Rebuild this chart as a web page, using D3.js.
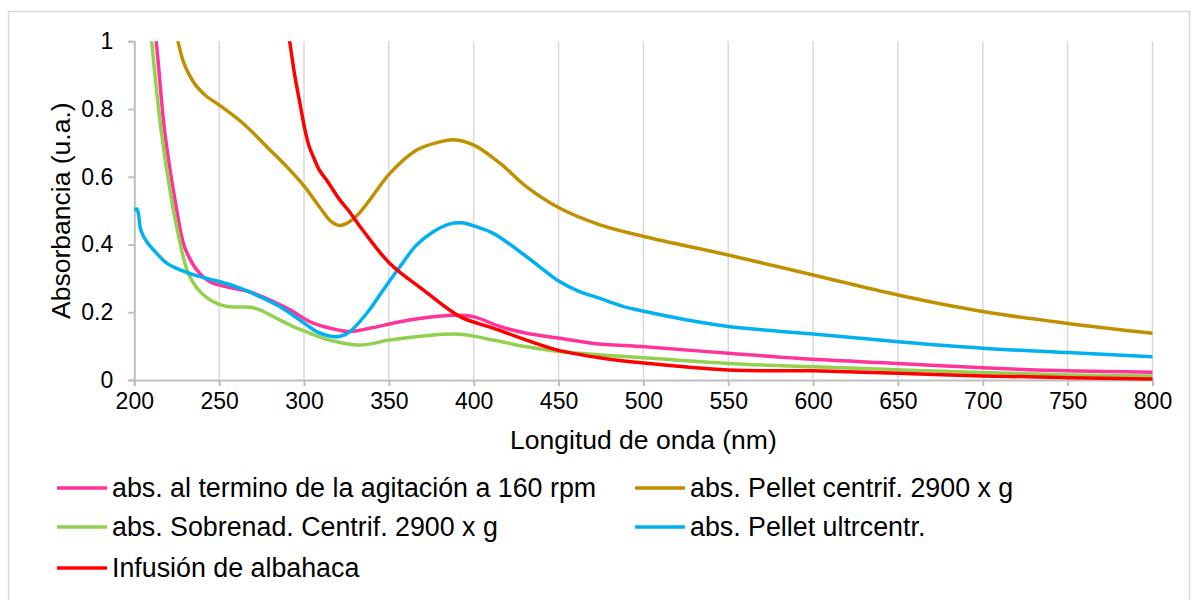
<!DOCTYPE html>
<html><head><meta charset="utf-8">
<script src="https://cdn.jsdelivr.net/npm/d3@7"></script>
<style>
html,body{margin:0;padding:0;background:#fff;}
text{font-family:"Liberation Sans",Arial,sans-serif;fill:#000;}
</style></head>
<body><svg id="chart" width="1192" height="600"></svg>
<script>
// ---- data (wavelength nm, absorbance u.a.) ----
const seriesNames = ["abs. al termino de la agitación a 160 rpm","abs. Pellet centrif. 2900 x g","abs. Sobrenad. Centrif. 2900 x g","abs. Pellet ultrcentr.","Infusión de albahaca"];
const seriesColors = ["#FF3399","#BF9000","#92D050","#00B0F0","#FF0000"];

const pinkNm  = [205,212.9,218,224,228.9,232,236.8,244.6,256.4,268.2,280,291.8,303.5,311.4,320,327,338.9,356.6,370.3,388,399.8,415.5,431.2,450.8,470.5,500.9,550,600,650,700,750,800];
const pinkAbs = [1.35,1.0,0.73,0.531,0.404,0.365,0.325,0.29,0.273,0.26,0.236,0.207,0.172,0.158,0.148,0.143,0.153,0.172,0.183,0.191,0.187,0.158,0.138,0.123,0.108,0.098,0.079,0.061,0.049,0.036,0.027,0.023];

const goldNm  = [220,222,225.7,228.9,232.8,236.8,242.7,250,264,280,289.8,300,310,316,321,327,333,340,350.6,366.4,380,388,399.8,415.5,431,450.8,474.4,500.9,550,600,650,700,750,800];
const goldAbs = [1.12,1.07,1.0,0.94,0.897,0.866,0.837,0.812,0.758,0.679,0.63,0.573,0.505,0.468,0.456,0.468,0.495,0.54,0.61,0.679,0.703,0.709,0.694,0.64,0.571,0.507,0.458,0.423,0.369,0.31,0.251,0.202,0.167,0.138];

const greenNm  = [204,210.2,216,222,227,231.8,238.7,248.6,256.4,268.2,274,283.9,295.7,303.5,311.4,320,333,350.6,370.3,392,411.5,431,449,474.4,500,550,600,650,700,750,800];
const greenAbs = [1.35,1.0,0.73,0.531,0.404,0.315,0.261,0.226,0.216,0.215,0.207,0.182,0.153,0.138,0.123,0.112,0.103,0.118,0.13,0.135,0.118,0.098,0.085,0.074,0.066,0.049,0.039,0.03,0.022,0.015,0.012];

const blueNm  = [200,201.5,202.4,203.8,207.3,213.2,219.1,227,238.7,250.5,262.3,274,285.9,297.6,307.5,317.3,322,327.1,337,346.7,356.6,366.4,376.2,386,393,400,411.5,431.2,450.8,462,474.4,487,500.9,525,550,575,600,650,700,750,800];
const blueAbs = [0.502,0.505,0.492,0.443,0.408,0.374,0.345,0.325,0.305,0.29,0.271,0.246,0.216,0.177,0.143,0.128,0.13,0.143,0.197,0.266,0.335,0.399,0.438,0.461,0.464,0.455,0.433,0.364,0.29,0.262,0.241,0.219,0.202,0.178,0.158,0.146,0.136,0.113,0.094,0.081,0.069];

const redNm  = [288,291.5,294.7,297.6,300.6,303,305.5,309,313.4,321.2,326,335,350.6,370.3,391.9,411.5,431,448.9,475,500,550,600,650,700,750,800];
const redAbs = [1.1,1.0,0.895,0.817,0.738,0.69,0.659,0.62,0.59,0.531,0.502,0.44,0.344,0.266,0.187,0.153,0.118,0.089,0.065,0.05,0.0295,0.027,0.02,0.012,0.007,0.003];

const xTicks = [200,250,300,350,400,450,500,550,600,650,700,750,800];
const yTicks = [0,0.2,0.4,0.6,0.8,1];
const xTitle = "Longitud de onda (nm)";
const yTitle = "Absorbancia (u.a.)";

const series = [
  {nm: pinkNm, v: pinkAbs},
  {nm: goldNm, v: goldAbs},
  {nm: greenNm, v: greenAbs},
  {nm: blueNm, v: blueAbs},
  {nm: redNm, v: redAbs}
].map((s,i)=>({name: seriesNames[i], color: seriesColors[i], pts: s.nm.map((n,j)=>[n, s.v[j]])}));

// ---- layout ----
const svg = d3.select("#chart");
const L = 134.3, R = 1152.5, T = 41.3, B = 380;
const x = d3.scaleLinear().domain([200,800]).range([L,R]);
const y = d3.scaleLinear().domain([0,1]).range([B,T]);

// outer border
svg.append("rect").attr("x",8.5).attr("y",11.5).attr("width",1181).attr("height",600)
  .attr("fill","none").attr("stroke","#d9d9d9").attr("stroke-width",1.5);

// vertical gridlines
svg.append("g").selectAll("line").data(xTicks.slice(1)).join("line")
  .attr("x1",d=>x(d)).attr("x2",d=>x(d)).attr("y1",T).attr("y2",B)
  .attr("stroke","#d9d9d9").attr("stroke-width",1.5);

// axes
const fs = 23;
const gx = svg.append("g").attr("transform",`translate(0,${B})`)
  .call(d3.axisBottom(x).tickValues(xTicks).tickSize(6).tickPadding(7).tickFormat(d3.format("d")));
const gy = svg.append("g").attr("transform",`translate(${L},0)`)
  .call(d3.axisLeft(y).tickValues(yTicks).tickSize(6).tickPadding(15).tickFormat(d=>String(d)));
[gx,gy].forEach(g=>{
  g.select(".domain").attr("stroke","#bfbfbf").attr("stroke-width",2);
  g.selectAll(".tick line").attr("stroke","#bfbfbf").attr("stroke-width",2);
  g.selectAll(".tick text").attr("font-size",fs).attr("font-family","Liberation Sans, Arial, sans-serif").attr("fill","#000");
});

// clip
svg.append("clipPath").attr("id","clip").append("rect").attr("x",L).attr("y",T).attr("width",R-L).attr("height",B-T+2);

const line = d3.line().x(d=>x(d[0])).y(d=>y(d[1])).curve(d3.curveCatmullRom.alpha(0.5));
svg.append("g").attr("clip-path","url(#clip)").selectAll("path").data(series).join("path")
  .attr("d",d=>line(d.pts)).attr("fill","none").attr("stroke",d=>d.color)
  .attr("stroke-width",3.5).attr("stroke-linejoin","round").attr("stroke-linecap","round");

// titles
svg.append("text").attr("x",(L+R)/2).attr("y",449).attr("text-anchor","middle").attr("font-size",26.5).text(xTitle);
svg.append("text").attr("transform",`translate(70,${(T+B)/2}) rotate(-90)`).attr("text-anchor","middle").attr("font-size",26.5).text(yTitle);

// legend
const legPos = [[57,488],[635,488],[57,527],[635,527],[57,568]];
const lg = svg.append("g").selectAll("g").data(series).join("g")
  .attr("transform",(d,i)=>`translate(${legPos[i][0]},${legPos[i][1]})`);
lg.append("line").attr("x1",0).attr("x2",50).attr("y1",0).attr("y2",0).attr("stroke",d=>d.color).attr("stroke-width",3.5);
lg.append("text").attr("x",55).attr("y",0).attr("dy","0.35em").attr("font-size",26.8).text(d=>d.name);
</script></body></html>
